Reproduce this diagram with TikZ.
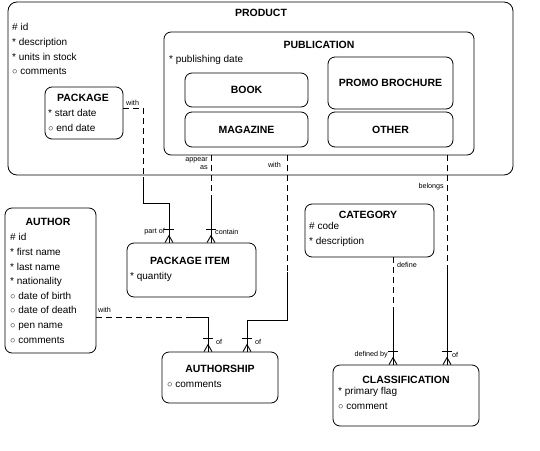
\documentclass[tikz,border=0pt]{standalone}
\usepackage{fontspec}
\setmainfont{Liberation Sans}
\usetikzlibrary{fit}

\tikzset{
  ent/.style={draw, line width=0.8pt, rounded corners=7pt, inner sep=0pt},
  ttl/.style={font=\fontsize{10.5}{12}\selectfont\bfseries, inner sep=0pt},
  attr/.style={font=\fontsize{10}{14.6}\selectfont, align=left, inner sep=0pt, anchor=north west},
  rel/.style={font=\fontsize{7.2}{8}\selectfont, inner sep=0pt},
  opt/.style={line width=0.8pt, dash pattern=on 6pt off 4pt},
  mand/.style={line width=0.9pt},
}
\newcommand{\optmark}{{\fontsize{9}{9}\selectfont ○}}
\newcommand{\crowfoot}[1]{%
  \draw[mand] ([xshift=-5pt,yshift=13pt]#1) -- ([xshift=5pt,yshift=13pt]#1);
  \draw[mand] ([xshift=-4pt]#1) -- ([yshift=7pt]#1) -- ([xshift=4pt]#1);
}

\begin{document}
\begin{tikzpicture}[x=1pt,y=-1pt]
    \useasboundingbox (0,0) rectangle (540,450);

    % supertype and subtypes
    \node[ent, rounded corners=9pt, fit={(8,2) (513,175)}] (prod) {};
    \node[ttl] (prodtitle) at (261,13) {PRODUCT};
    \node[attr] (prodattr) at (12,23.5) {\# id\\* description\\* units in stock\\\optmark\ comments};

    \node[ent, fit={(45,87) (123,139)}] (pkg) {};
    \node[ttl] (pkgtitle) at (83,98) {PACKAGE};
    \node[attr] (pkgattr) at (48,109.5) {* start date\\\optmark\ end date};

    \node[ent, fit={(164,32) (474,155)}] (pub) {};
    \node[ttl] (pubtitle) at (319,45) {PUBLICATION};
    \node[attr, anchor=west] (pubattr) at (169,60) {* publishing date};

    \node[ent, fit={(185,73) (308,107)}] (book) {};
    \node[ttl] (booktitle) at (book.center) {BOOK};
    \node[ent, fit={(185,112) (308,147)}] (mag) {};
    \node[ttl] (magtitle) at (mag.center) {MAGAZINE};
    \node[ent, fit={(328,57) (453,109)}] (promo) {};
    \node[ttl] (promotitle) at (promo.center) {PROMO BROCHURE};
    \node[ent, fit={(328,112) (453,147)}] (other) {};
    \node[ttl] (othertitle) at (other.center) {OTHER};

    % other entities
    \node[ent, fit={(127,243) (256,297)}] (pitem) {};
    \node[ttl] (pitemtitle) at (190,261) {PACKAGE ITEM};
    \node[attr, anchor=west] (pitemattr) at (130,277) {* quantity};

    \node[ent, fit={(5,208) (96,353)}] (author) {};
    \node[ttl] (authortitle) at (48,222) {AUTHOR};
    \node[attr] (authorattr) at (10,233.5) {\# id\\* first name\\* last name\\* nationality\\\optmark\ date of birth\\\optmark\ date of death\\\optmark\ pen name\\\optmark\ comments};

    \node[ent, fit={(162,352) (278,403)}] (aship) {};
    \node[ttl] (ashiptitle) at (220,369) {AUTHORSHIP};
    \node[attr, anchor=west] (ashipattr) at (167,384) {\optmark\ comments};

    \node[ent, fit={(305,204) (434,257)}] (cat) {};
    \node[ttl] (cattitle) at (368,215) {CATEGORY};
    \node[attr] (catattr) at (309,222.5) {\# code\\* description};

    \node[ent, fit={(333,365) (479,426)}] (class) {};
    \node[ttl] (classtitle) at (406,380) {CLASSIFICATION};
    \node[attr] (classattr) at (338,387.5) {* primary flag\\\optmark\ comment};

    % package -- package item
    \coordinate (pkgout) at ([yshift=5pt]pkg.east);
    \coordinate (pkgmid) at (143,177);
    \coordinate (pkgin) at (169,0 |- pitem.north);
    \draw[opt] (pkgout) -| (pkgmid);
    \draw[mand] (pkgmid) -- (143,203) -| (pkgin);
    \crowfoot{pkgin}
    \node[rel, anchor=south west] (lpkgwith) at (126,106) {with};
    \node[rel, anchor=east] (lpartof) at (165,232) {part of};

    % publication -- package item
    \coordinate (pubapp) at (211,0 |- pub.south);
    \coordinate (appmid) at (211,199);
    \coordinate (pitin) at (211,0 |- pitem.north);
    \draw[opt] (pubapp) -- (appmid);
    \draw[mand] (appmid) -- (pitin);
    \crowfoot{pitin}
    \node[rel, align=right, anchor=north east] (lappear) at (208,157) {appear\\as};
    \node[rel, anchor=west] (lcontain) at (215,232) {contain};

    % publication -- authorship
    \coordinate (pubwith) at (287,0 |- pub.south);
    \coordinate (pubmid) at (287,272);
    \coordinate (ashipin2) at (247,0 |- aship.north);
    \draw[opt] (pubwith) -- (pubmid);
    \draw[mand] (pubmid) -- (287,320) -| (ashipin2);
    \crowfoot{ashipin2}
    \node[rel, anchor=east] (lpubwith) at (281,165) {with};
    \node[rel, anchor=west] (lof2) at (255,342) {of};

    % author -- authorship
    \coordinate (authout) at (author.east |- 0,317);
    \coordinate (authmid) at (186,317);
    \coordinate (ashipin1) at (208,0 |- aship.north);
    \draw[opt] (authout) -- (authmid);
    \draw[mand] (authmid) -| (ashipin1);
    \crowfoot{ashipin1}
    \node[rel, anchor=west] (lauthwith) at (98,310) {with};
    \node[rel, anchor=west] (lof1) at (216,342) {of};

    % category -- classification
    \coordinate (catout) at (393,0 |- cat.south);
    \coordinate (catmid) at (393,311);
    \coordinate (classin1) at (393,0 |- class.north);
    \draw[opt] (catout) -- (catmid);
    \draw[mand] (catmid) -- (classin1);
    \crowfoot{classin1}
    \node[rel, anchor=west] (ldefine) at (397,265) {define};
    \node[rel, anchor=east] (ldefby) at (388,355) {defined by};

    % publication -- classification
    \coordinate (pubbel) at (447,0 |- pub.south);
    \coordinate (belmid) at (447,265);
    \coordinate (classin2) at (447,0 |- class.north);
    \draw[opt] (pubbel) -- (belmid);
    \draw[mand] (belmid) -- (classin2);
    \crowfoot{classin2}
    \node[rel, anchor=east] (lbelongs) at (444,187) {belongs};
    \node[rel, anchor=west] (lof3) at (452,355) {of};
\end{tikzpicture}
\end{document}
